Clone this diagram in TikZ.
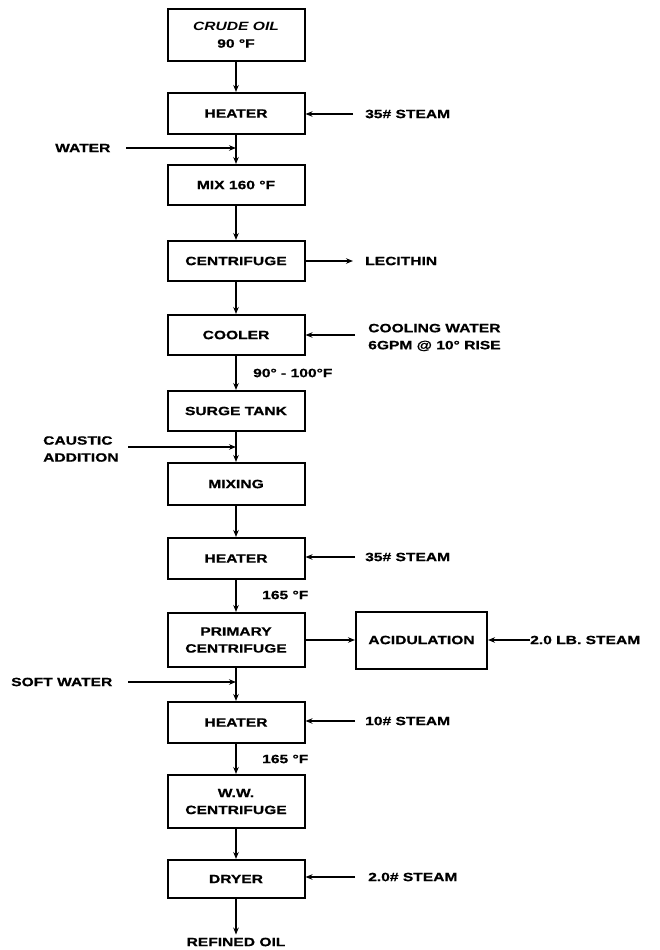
\documentclass[tikz,border=0pt]{standalone}
\usepackage{fontspec}
\setmainfont{Liberation Sans}[FakeStretch=1.3,BoldFeatures={FakeBold=0.8}]
\usetikzlibrary{arrows.meta}
\newcommand\dfont{\bfseries\fontsize{12}{17}\selectfont}
\begin{document}
\begin{tikzpicture}[x=1pt,y=-1pt,
  box/.style={draw, line width=2pt, minimum width=137pt, inner sep=0pt, align=center, font=\dfont},
  lbl/.style={font=\dfont, inner sep=0pt, align=left},
  flow/.style={line width=1.8pt, -{Stealth[length=7pt,width=5.5pt]}},
]
\useasboundingbox (0,0) rectangle (659,950);
% main column
\node[box, minimum height=52pt] (crude) at (236,35) {{\itshape CRUDE OIL}\\90 °F};
\node[box, minimum height=41pt] (heater1) at (236,113.5) {HEATER};
\node[box, minimum height=40pt] (mix) at (236,185) {MIX 160 °F};
\node[box, minimum height=40pt] (cent) at (236,261) {CENTRIFUGE};
\node[box, minimum height=40pt] (cooler) at (236,335) {COOLER};
\node[box, minimum height=40pt] (surge) at (236,411) {SURGE TANK};
\node[box, minimum height=42pt] (mixing) at (236,484) {MIXING};
\node[box, minimum height=41pt] (heater2) at (236,558.5) {HEATER};
\node[box, minimum height=54pt] (primary) at (236,640) {PRIMARY\\CENTRIFUGE};
\node[box, minimum height=41pt] (heater3) at (236,722.5) {HEATER};
\node[box, minimum height=53pt] (ww) at (236,801.5) {W.W.\\CENTRIFUGE};
\node[box, minimum height=38pt] (dryer) at (236,879) {DRYER};
\node[box, minimum width=131pt, minimum height=57pt] (acid) at (421.5,640) {ACIDULATION};
\node[lbl, anchor=center] (refined) at (236,942) {REFINED OIL};

% main flow
\draw[flow] (crude) -- (heater1);
\draw[flow] (heater1) -- (mix);
\draw[flow] (mix) -- (cent);
\draw[flow] (cent) -- (cooler);
\draw[flow] (cooler) -- (surge);
\draw[flow] (surge) -- (mixing);
\draw[flow] (mixing) -- (heater2);
\draw[flow] (heater2) -- (primary);
\draw[flow] (primary) -- (heater3);
\draw[flow] (heater3) -- (ww);
\draw[flow] (ww) -- (dryer);
\draw[flow, shorten >=3pt] (dryer) -- (refined);
\draw[flow] (primary) -- (acid);

% side labels
\node[lbl, anchor=west] (water) at (55,148) {WATER};
\node[lbl, anchor=west] (steam1) at (365,114) {35\# STEAM};
\node[lbl, anchor=west] (lecithin) at (365,261) {LECITHIN};
\node[lbl, anchor=west] (cooling) at (368,337.5) {COOLING WATER\\6GPM @ 10° RISE};
\node[lbl, anchor=west] (t1) at (253,373) {90° - 100°F};
\node[lbl, anchor=west] (caustic) at (43,449) {CAUSTIC\\ADDITION};
\node[lbl, anchor=west] (steam2) at (365,557) {35\# STEAM};
\node[lbl, anchor=west] (t2) at (262,595) {165 °F};
\node[lbl, anchor=west] (steam3) at (530,640) {2.0 LB. STEAM};
\node[lbl, anchor=west] (soft) at (11,682) {SOFT WATER};
\node[lbl, anchor=west] (steam4) at (365,721) {10\# STEAM};
\node[lbl, anchor=west] (t3) at (262,759) {165 °F};
\node[lbl, anchor=west] (steam5) at (368,877) {2.0\# STEAM};

% side connectors
\coordinate (wa) at (126,148);
\draw[flow] (wa) -- (wa -| heater1.south);
\coordinate (s1a) at (353,114);
\draw[flow] (s1a) -- (s1a -| heater1.east);
\coordinate (la) at (353,261);
\draw[flow] (cent.east) -- (la);
\coordinate (ca) at (355,335);
\draw[flow] (ca) -- (ca -| cooler.east);
\coordinate (cc) at (128,447);
\draw[flow] (cc) -- (cc -| surge.south);
\coordinate (s2a) at (355,557);
\draw[flow] (s2a) -- (s2a -| heater2.east);
\draw[flow] (steam3.west) -- (acid.east);
\coordinate (sw) at (128,682);
\draw[flow] (sw) -- (sw -| primary.south);
\coordinate (s4a) at (355,721);
\draw[flow] (s4a) -- (s4a -| heater3.east);
\coordinate (s5a) at (355,877);
\draw[flow] (s5a) -- (s5a -| dryer.east);
\end{tikzpicture}
\end{document}
